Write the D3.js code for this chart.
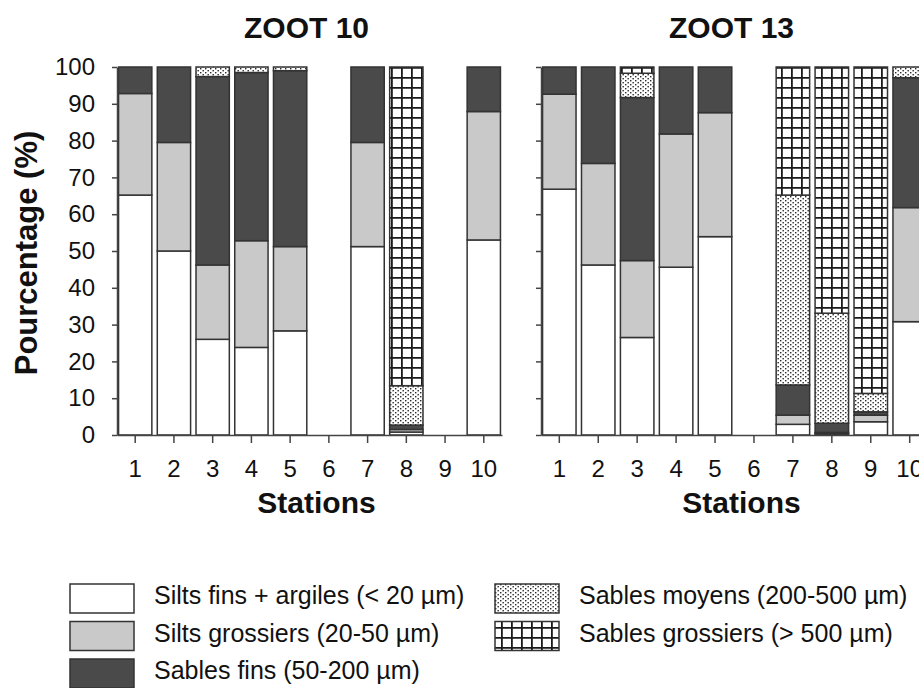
<!DOCTYPE html>
<html>
<head>
<meta charset="utf-8">
<script src="https://cdn.jsdelivr.net/npm/d3@7/dist/d3.min.js"></script>
<style>
  body { margin: 0; background: #fff; }
  text { font-family: "Liberation Sans", Arial, sans-serif; fill: #111; }
</style>
</head>
<body>
<svg id="chart" width="919" height="688"></svg>
<script>
// Grain-size fractions (%) per sampling station
const stations = ["1", "2", "3", "4", "5", "6", "7", "8", "9", "10"];
const classLabels = [
  "Silts fins + argiles (< 20 µm)",
  "Silts grossiers (20-50 µm)",
  "Sables fins (50-200 µm)",
  "Sables moyens (200-500 µm)",
  "Sables grossiers (> 500 µm)"
];
const yTicks = [0, 10, 20, 30, 40, 50, 60, 70, 80, 90, 100];

// ZOOT 10
const zoot10SiltsFins   = [65.2, 50.0, 26.0, 23.8, 28.3, 0, 51.2, 0.8, 0, 53.0];
const zoot10SiltsGros   = [27.6, 29.5, 20.2, 29.0, 22.9, 0, 28.3, 0.7, 0, 34.9];
const zoot10SablesFins  = [7.2, 20.5, 51.2, 45.7, 47.8, 0, 20.5, 1.2, 0, 12.1];
const zoot10SablesMoy   = [0, 0, 2.6, 1.5, 1.0, 0, 0, 10.7, 0, 0];
const zoot10SablesGros  = [0, 0, 0, 0, 0, 0, 0, 86.6, 0, 0];

// ZOOT 13
const zoot13SiltsFins   = [66.8, 46.2, 26.5, 45.6, 53.9, 0, 2.9, 0.3, 3.6, 30.8];
const zoot13SiltsGros   = [25.8, 27.6, 20.9, 36.2, 33.7, 0, 2.5, 0.4, 1.8, 31.0];
const zoot13SablesFins  = [7.4, 26.2, 44.3, 18.2, 12.4, 0, 8.2, 2.5, 0.9, 35.3];
const zoot13SablesMoy   = [0, 0, 6.6, 0, 0, 0, 51.6, 29.9, 5.0, 2.9];
const zoot13SablesGros  = [0, 0, 1.7, 0, 0, 0, 34.8, 66.9, 88.7, 0];

const keys = ["c0", "c1", "c2", "c3", "c4"];
const fills = ["#ffffff", "#c9c9c9", "#4a4a4a", "url(#dots)", "url(#grid)"];

function toRows(series) {
  return stations.map((s, i) => {
    const row = { station: s };
    keys.forEach((k, j) => { row[k] = series[j][i]; });
    return row;
  });
}

const panels = [
  { title: "ZOOT 10", left: 117, right: 502, labels: true,
    rows: toRows([zoot10SiltsFins, zoot10SiltsGros, zoot10SablesFins, zoot10SablesMoy, zoot10SablesGros]) },
  { title: "ZOOT 13", left: 541, right: 928, labels: false,
    rows: toRows([zoot13SiltsFins, zoot13SiltsGros, zoot13SablesFins, zoot13SablesMoy, zoot13SablesGros]) }
];

const svg = d3.select("#chart");
svg.append("rect").attr("width", 919).attr("height", 688).attr("fill", "#fff");

// Fill patterns: stipple for medium sands, square grid for coarse sands
const defs = svg.append("defs");
const dots = defs.append("pattern").attr("id", "dots")
  .attr("patternUnits", "userSpaceOnUse").attr("width", 5).attr("height", 4);
dots.append("rect").attr("width", 5).attr("height", 4).attr("fill", "#fff");
dots.append("rect").attr("x", 0).attr("y", 0).attr("width", 1.4).attr("height", 1.4).attr("fill", "#2a2a2a");
dots.append("rect").attr("x", 2.5).attr("y", 2).attr("width", 1.4).attr("height", 1.4).attr("fill", "#2a2a2a");

const grid = defs.append("pattern").attr("id", "grid")
  .attr("patternUnits", "userSpaceOnUse").attr("width", 10).attr("height", 10)
  .attr("x", 1).attr("y", 67);
grid.append("rect").attr("width", 10).attr("height", 10).attr("fill", "#fff");
grid.append("path").attr("d", "M0,0.9H10M0.9,0V10")
  .attr("stroke", "#1a1a1a").attr("stroke-width", 1.8).attr("fill", "none");

const y = d3.scaleLinear().domain([0, 100]).range([435, 67]);
const stack = d3.stack().keys(keys);

panels.forEach(p => {
  const x = d3.scaleBand().domain(stations).range([p.left, p.right])
    .paddingInner(0.14).paddingOuter(0.04);
  const g = svg.append("g");
  const layers = stack(p.rows);

  layers.forEach((layer, li) => {
    g.append("g").selectAll("rect")
      .data(layer.filter(d => d[1] - d[0] > 0))
      .join("rect")
      .attr("x", d => x(d.data.station))
      .attr("y", d => y(d[1]))
      .attr("width", x.bandwidth())
      .attr("height", d => y(d[0]) - y(d[1]))
      .attr("fill", fills[li])
      .attr("stroke", "#333")
      .attr("stroke-width", 1.5);
  });

  // Axes
  const yAxis = d3.axisLeft(y).tickValues(yTicks).tickSize(5).tickSizeOuter(0).tickPadding(17);
  if (!p.labels) yAxis.tickFormat("");
  const ya = g.append("g").attr("transform", `translate(${p.left},0)`).call(yAxis);

  const xAxis = d3.axisBottom(x).tickSize(8).tickSizeOuter(0).tickPadding(17);
  const xa = g.append("g").attr("transform", "translate(0,435)").call(xAxis);

  [ya, xa].forEach(a => {
    a.select(".domain").attr("stroke", "#444").attr("stroke-width", 1.5);
    a.selectAll(".tick line").attr("stroke", "#444").attr("stroke-width", 1.5);
    a.selectAll(".tick text").attr("font-size", 24).attr("fill", "#1a1a1a")
      .attr("font-family", "'Liberation Sans', Arial, sans-serif");
  });

  const mid = (p.left + p.right) / 2;
  g.append("text").attr("x", mid - 3).attr("y", 38)
    .attr("text-anchor", "middle").attr("font-size", 30).attr("font-weight", "bold")
    .text(p.title);
  g.append("text").attr("x", mid + 7).attr("y", 513)
    .attr("text-anchor", "middle").attr("font-size", 30).attr("font-weight", "bold")
    .text("Stations");
});

// Y-axis title
svg.append("text")
  .attr("transform", "translate(37,253) rotate(-90)")
  .attr("text-anchor", "middle").attr("font-size", 31).attr("font-weight", "bold")
  .text("Pourcentage (%)");

// Legend
const legendPos = [
  { x: 70, y: 584 }, { x: 70, y: 621.5 }, { x: 70, y: 659 },
  { x: 495, y: 584 }, { x: 495, y: 621.5 }
];
const lg = svg.append("g");
classLabels.forEach((label, i) => {
  const pos = legendPos[i];
  lg.append("rect").attr("x", pos.x).attr("y", pos.y).attr("width", 64).attr("height", 29)
    .attr("fill", fills[i]).attr("stroke", "#333").attr("stroke-width", 1.5);
  lg.append("text").attr("x", pos.x + 84).attr("y", pos.y + 20)
    .attr("font-size", 25).attr("fill", "#1a1a1a").text(label);
});
</script>
</body>
</html>
